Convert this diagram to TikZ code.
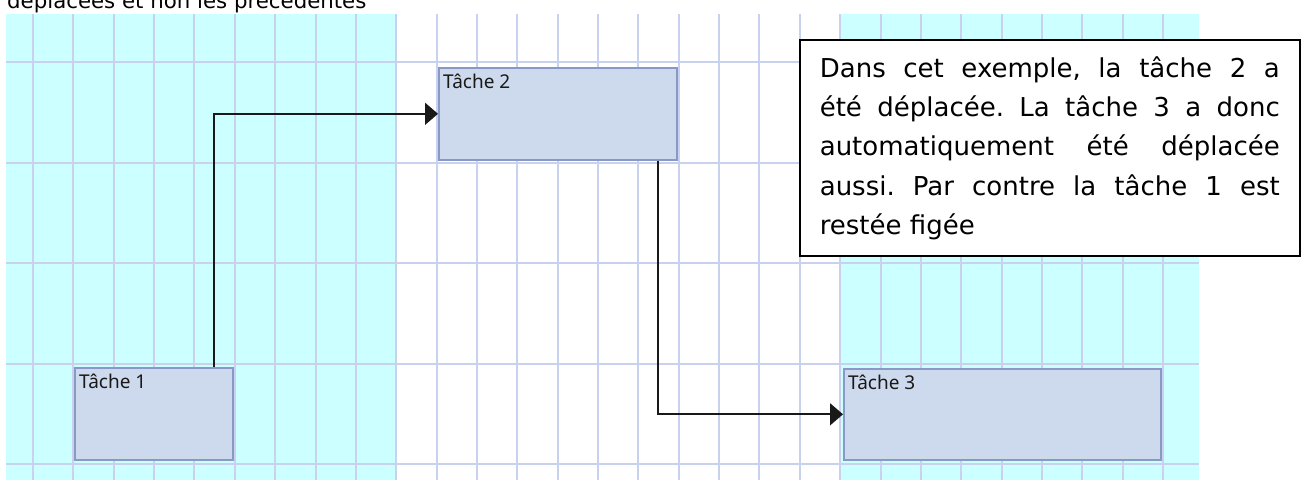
\documentclass[tikz,border=0pt]{standalone}
\usepackage{fontspec}
\setmainfont{DejaVu Sans}
\newfontfamily\labelfont{Noto Sans}
\usetikzlibrary{arrows.meta}
\frenchspacing

\definecolor{zonecyan}{HTML}{CCFFFF}
\definecolor{gridline}{HTML}{C8D1EE}
\definecolor{taskfill}{HTML}{CDD9EC}
\definecolor{taskdraw}{HTML}{8A98C6}

\tikzset{
  gridrule/.style={gridline, line width=2pt},
  task/.style={draw=taskdraw, fill=taskfill, line width=1.6pt, anchor=north west, inner sep=0pt},
  tasklabel/.style={anchor=base west, inner sep=0pt, text=black!90, font=\labelfont\fontsize{19}{22}\selectfont},
  link/.style={line width=1.7pt, black!90, -{Triangle[length=13pt,width=22pt]}},
  note/.style={draw=black, fill=white, line width=1.6pt, anchor=north west, text width=460pt,
    inner xsep=20pt, inner ysep=16.5pt, align=justify, font=\fontsize{26}{39.3}\selectfont}
}

\begin{document}
\begin{tikzpicture}[x=1pt,y=-1pt]
\useasboundingbox (0,0) rectangle (1305,480);

% zones
\fill[zonecyan] (6,14) rectangle (397,480);
\fill[zonecyan] (840,14) rectangle (1199,480);

% grid
\foreach \k in {0,...,28}
  \draw[gridrule] ({33+40.36*\k},14) -- ({33+40.36*\k},480);
\foreach \j in {0,...,4}
  \draw[gridrule] (6,{62+100.5*\j}) -- (1199,{62+100.5*\j});

\node[anchor=base west, inner sep=0pt, font=\fontsize{21.3}{25}\selectfont] (intro) at (7,8) {déplacées et non les précédentes};

% tasks
\node[task, minimum width=158pt, minimum height=92pt] (t1) at (74,367) {};
\node[task, minimum width=238pt, minimum height=92pt] (t2) at (438,67) {};
\node[task, minimum width=317pt, minimum height=91pt] (t3) at (843,368) {};

\node[tasklabel] (l1) at ([xshift=5pt,yshift=-21pt]t1.north west) {Tâche 1};
\node[tasklabel] (l2) at ([xshift=5pt,yshift=-21pt]t2.north west) {Tâche 2};
\node[tasklabel] (l3) at ([xshift=5pt,yshift=-21pt]t3.north west) {Tâche 3};

% links
\draw[link] ([xshift=60pt]t1.north) |- (t2.west);
\draw[link] ([xshift=100pt]t2.south) |- (t3.west);

% comment box
\node[note] (note) at (799,39) {\tolerance=10000 \hbadness=10000
Dans cet exemple, la tâche 2 a\linebreak
été déplacée. La tâche 3 a donc\linebreak
automatiquement été déplacée\linebreak
aussi. Par contre la tâche 1 est\linebreak
restée figée};
\end{tikzpicture}
\end{document}
